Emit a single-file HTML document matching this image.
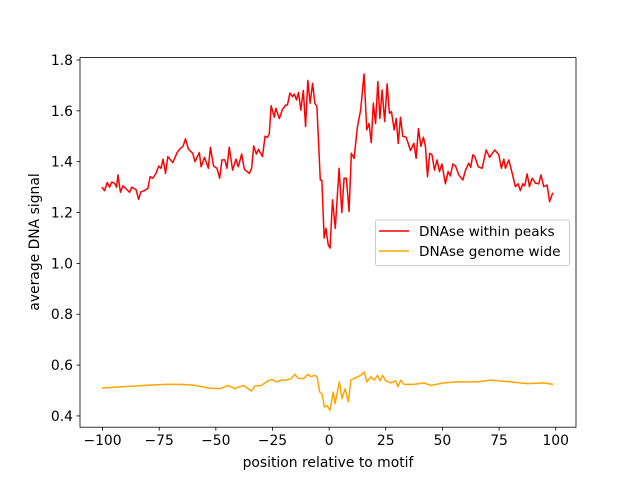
<!DOCTYPE html>
<html><head><meta charset="utf-8"><style>
body{margin:0;background:#fff}
svg{display:block;font-family:"DejaVu Sans","Liberation Sans",sans-serif}
</style></head><body>
<svg id="chart" width="640" height="480">
<rect x="0" y="0" width="640" height="480" fill="#fff"/>
<g id="plot"></g>
<g id="axes"></g>
<rect x="80" y="57.6" width="496" height="369.6" fill="none" stroke="#000" stroke-width="0.8"/>
<text x="328" y="467" text-anchor="middle" font-size="13.9">position relative to motif</text>
<text x="39" y="242" text-anchor="middle" font-size="13.9" transform="rotate(-90 39 242)">average DNA signal</text>
<g>
<rect x="375.5" y="220" width="194" height="45.5" rx="2" fill="#fff" fill-opacity="0.8" stroke="#ccc" stroke-width="1"/>
<g>
<line x1="379" y1="231" x2="409" y2="231" stroke="#ff0000" stroke-width="1.5"/>
<text x="419" y="236" font-size="13.6">DNAse within peaks</text></g>
<g>
<line x1="379" y1="251" x2="409" y2="251" stroke="#ffa500" stroke-width="1.5"/>
<text x="419" y="256" font-size="13.6">DNAse genome wide</text></g>
</g>
</svg>
<script>
const peaksX=[-100.3,-99.1,-97.9,-96.9,-95.9,-94.7,-93.8,-93.2,-92.1,-91.0,-88.1,-87.1,-85.2,-84.1,-83.0,-81.5,-80.0,-79.0,-77.8,-76.4,-75.2,-74.2,-73.3,-72.2,-71.2,-69.0,-67.1,-65.6,-64.5,-63.4,-62.1,-60.2,-59.2,-57.3,-56.5,-55.0,-53.3,-52.4,-51.0,-49.5,-48.3,-47.3,-46.0,-45.1,-44.1,-42.6,-41.1,-40.1,-38.6,-37.4,-35.2,-34.2,-33.3,-32.1,-31.2,-29.4,-28.3,-27.2,-26.4,-25.6,-24.2,-23.5,-22.0,-20.6,-19.1,-18.4,-17.3,-16.2,-15.4,-14.4,-13.5,-12.5,-11.4,-10.4,-9.4,-8.4,-7.3,-6.3,-5.4,-3.9,-3.2,-2.2,-1.4,-0.4,0.4,1.5,2.7,4.4,5.6,6.6,7.6,8.8,9.8,11.0,12.5,13.9,15.4,16.6,17.6,18.6,19.5,20.5,21.5,22.4,23.4,24.5,25.6,26.6,27.5,28.7,29.6,30.5,31.5,32.5,34.0,35.9,37.4,38.4,39.4,40.5,41.6,42.5,43.4,44.4,45.4,46.5,47.6,48.7,49.8,51.3,52.5,53.5,54.6,55.8,57.2,59.0,60.2,61.6,62.5,63.4,64.3,65.8,67.5,69.3,70.8,73.1,74.9,76.0,77.1,77.8,79.3,80.8,82.2,83.4,84.4,85.5,86.3,87.4,88.4,89.6,91.1,92.5,93.5,94.7,96.2,97.3,98.7];
const peaksY=[1.30,1.286,1.318,1.30,1.32,1.315,1.30,1.348,1.28,1.305,1.28,1.30,1.29,1.252,1.282,1.286,1.295,1.341,1.335,1.354,1.383,1.374,1.41,1.354,1.42,1.396,1.436,1.453,1.46,1.49,1.449,1.433,1.40,1.436,1.38,1.417,1.374,1.457,1.383,1.374,1.335,1.407,1.407,1.374,1.457,1.367,1.41,1.38,1.43,1.37,1.354,1.374,1.462,1.43,1.449,1.42,1.50,1.496,1.51,1.62,1.575,1.61,1.57,1.606,1.623,1.623,1.67,1.656,1.666,1.643,1.672,1.603,1.68,1.538,1.72,1.63,1.708,1.63,1.617,1.328,1.326,1.10,1.138,1.073,1.06,1.25,1.138,1.374,1.20,1.335,1.335,1.204,1.433,1.413,1.538,1.603,1.745,1.525,1.55,1.475,1.63,1.55,1.715,1.57,1.682,1.558,1.706,1.59,1.597,1.525,1.57,1.472,1.575,1.50,1.496,1.444,1.472,1.413,1.53,1.46,1.496,1.46,1.341,1.433,1.427,1.367,1.407,1.361,1.391,1.313,1.361,1.344,1.391,1.383,1.348,1.328,1.367,1.394,1.378,1.427,1.42,1.38,1.374,1.446,1.417,1.446,1.427,1.374,1.41,1.374,1.407,1.354,1.302,1.313,1.286,1.313,1.305,1.352,1.302,1.335,1.315,1.313,1.348,1.302,1.308,1.243,1.278];
const genomeX=[-100.3,-81.2,-72.4,-65.1,-59.2,-53.3,-48.2,-44.5,-41.6,-37.9,-34.3,-32.8,-29.9,-27.0,-25.2,-23.3,-21.1,-18.9,-16.7,-15.2,-13.5,-11.2,-9.4,-7.9,-6.5,-5.3,-4.2,-3.2,-2.1,-0.9,0.4,1.8,2.6,4.5,5.7,7.0,8.5,9.6,11.8,14.0,15.5,16.7,18.4,19.9,21.4,22.5,23.6,25.0,27.2,29.4,30.4,31.6,33.1,37.4,41.9,44.8,50.7,56.5,65.3,71.2,80.0,87.4,94.7,98.8];
const genomeY=[0.51,0.52,0.524,0.524,0.52,0.51,0.507,0.52,0.507,0.52,0.498,0.517,0.52,0.538,0.543,0.534,0.541,0.541,0.547,0.564,0.547,0.547,0.564,0.554,0.56,0.554,0.494,0.488,0.435,0.441,0.422,0.494,0.448,0.534,0.468,0.507,0.455,0.541,0.551,0.56,0.573,0.534,0.554,0.541,0.56,0.538,0.56,0.538,0.53,0.538,0.515,0.541,0.524,0.524,0.53,0.52,0.53,0.534,0.534,0.541,0.534,0.527,0.53,0.524];
const xTicks=[-100,-75,-50,-25,0,25,50,75,100];
const yTicks=[0.4,0.6,0.8,1.0,1.2,1.4,1.6,1.8];
const yTickLabels=["0.4","0.6","0.8","1.0","1.2","1.4","1.6","1.8"];

const X0=80,X1=576,Y0=427.2,Y1=57.6,xmin=-109.95,xmax=108.95,ymin=0.3557,ymax=1.8094;
function xs(v){return X0+(v-xmin)/(xmax-xmin)*(X1-X0);}
function ys(v){return Y0-(v-ymin)/(ymax-ymin)*(Y0-Y1);}
const NS="http://www.w3.org/2000/svg";
const plot=document.getElementById('plot'),axes=document.getElementById('axes');
function line(xa,ya,color,name){
  const p=document.createElementNS(NS,'polyline');
  p.setAttribute('points',xa.map((x,i)=>xs(x).toFixed(2)+','+ys(ya[i]).toFixed(2)).join(' '));
  p.setAttribute('fill','none');p.setAttribute('stroke',color);p.setAttribute('stroke-width','1.5');
  p.setAttribute('stroke-linejoin','round');
  
  
  plot.appendChild(p);
}
line(peaksX,peaksY,'#ff0000','series-within-peaks');
line(genomeX,genomeY,'#ffa500','series-genome-wide');
xTicks.forEach(t=>{
  const g=document.createElementNS(NS,'g');
  
  
  const x=xs(t);
  g.innerHTML=`<line x1="${x}" y1="427.2" x2="${x}" y2="430.7" stroke="#000" stroke-width="0.8"/><text x="${x}" y="445" text-anchor="middle" font-size="13.9">${t<0?'\u2212'+(-t):t}</text>`;
  axes.appendChild(g);
});
yTicks.forEach((t,i)=>{
  const g=document.createElementNS(NS,'g');
  
  
  const y=ys(t);
  g.innerHTML=`<line x1="76.5" y1="${y}" x2="80" y2="${y}" stroke="#000" stroke-width="0.8"/><text x="73" y="${y+5}" text-anchor="end" font-size="13.9">${yTickLabels[i]}</text>`;
  axes.appendChild(g);
});
</script>
</body></html>
